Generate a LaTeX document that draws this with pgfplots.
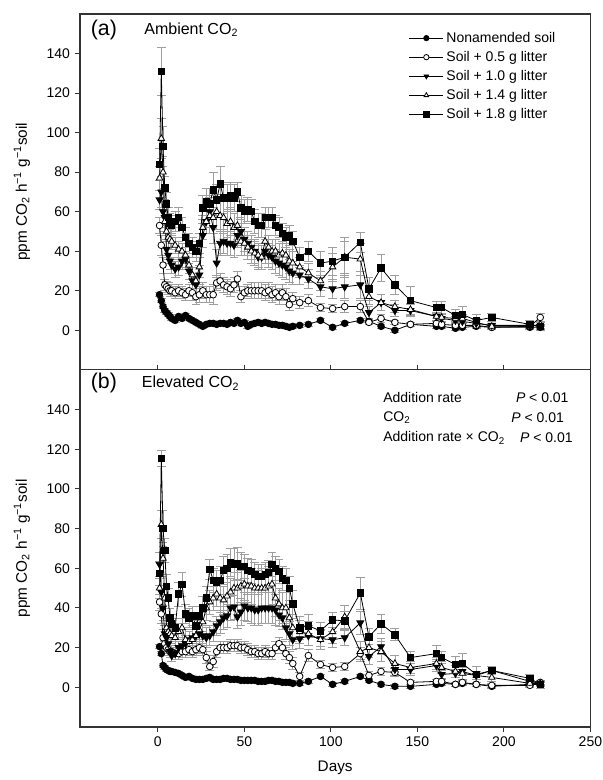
\documentclass[border=0pt]{standalone}
\usepackage{fontspec}
\setmainfont{Liberation Sans}
\usepackage{pgfplots}
\usepackage{pgfplotstable}
\pgfplotsset{compat=1.18}

% columns: day, nonamended, 0.5 g, 1.0 g, 1.4 g, 1.8 g (value, error)
\pgfplotstableread{
d n ne a ae b be c ce s se
1 18 1 53 4 66 5 77 6 84 8
2 15 1 43 5 70 8 97 10 131 12
3 12 1 33 4 60 7 80 8 93 10
4 10 1 23 3 57 5 55 5 72 6
5 9 1 22 3 41 5 50 5 64 6
6 8 1 21 3 38 4 47 5 57 5
7 7 1 20 3 35 4 46 5 54 5
8 6 1 20 3 33 4 45 4 53 5
10 5 1 19 3 31 4 43 4 55 5
12 7 1 20 3 32 4 41 4 57 5
14 6 1 19 3 35 4 40 4 52 5
16 7.5 1 18 3 36 4 38 4 47 5
18 6 1 20 3 30 4 33 4 44 5
20 5 1 19 4 25 4 28 4 42 5
22 4 1 17 4 23 4 25 4 40 5
24 3 1 18 4 28 5 32 5 44 5
26 2 1 20 4 48 6 52 6 62 6
28 3 1 18 4 55 6 55 6 65 7
30 3.5 1 18 4 60 8 58 9 64 8
32 3.5 1 18 5 52 8 57 8 71 9
34 3 1 24 4 34 7 60 9 66 8
36 3.5 1 25 4 44 6 58 8 74 9
38 3.5 1 23 4 45 6 57 8 67 8
40 3 1 22 4 44 6 54 7 67 7
42 4 1 21 4 44 6 55 7 68 7
44 3.5 1 23 4 43 6 52 7 67 7
46 5 1 26 4 48 6 53 7 70 5
48 3.5 1 17 3 50 7 45 7 62 6
50 4 1 19 3 46 6 44 6 60 6
52 2 1 20 3 44 6 42 6 61 6
54 3 1 20 4 42 6 40 6 60 6
56 3.5 1 20 4 40 6 39 6 55 6
58 4 1 20 4 37 6 38 6 53 6
60 3.5 1 20 4 37 6 37 6 53 6
62 4 1 19 4 40 6 45 6 57 5
64 3.5 1 20 4 38 6 42 6 57 5
66 3 1 18 4 37 6 40 6 57 5
68 3 1 19 4 35 6 40 6 53 5
70 2.5 1 17 4 34 6 38 6 52 5
72 2.5 1 19 4 33 6 39 6 49 5
74 2 1 17 4 32 6 38 6 47 5
76 1.5 1 13 3 30 6 35 6 48 5
78 2 1 16 3 29 6 34 6 45 5
82 2.5 1 14 3 28 5 32 5 37 5
87 3 1 15 3 26 5 29 5 40 5
94 5 1 11.5 2 22 5 25 5 34 6
101 1.5 1 11 2 21 5 32 7 35 7
108 3.5 1 12 3 22 6 37 8 37 10
117 5 1 12 3 23 7 36 8 44.5 5
122 4.5 1 4 1 9 3 17 4 21 6
129 2 1 6 2 14 4 14 4 31.5 7
137 0 1 4 1 10 3 12 3 23 5
146 3 1 3 1 10 3 10.5 3 15 7
161 2 1 3.5 1 7 2 7 2 11.5 3
164 2 1 3 1 6 2 6.5 2 11.5 3
172 1 1 2.5 1 5 2 6 2 7.5 3
176 1.5 1 2.5 1 4.5 2 6 2 8 4
184 2 1 2.5 1 3.5 2 4 2 5 3
193 1.5 1 1.5 1 2.5 1 2 1 6.5 2
215 1.5 1 2 1 2.5 1 2 1 3 2
221 1.5 1 6.5 2 2 1 3 1 2 2
}\dataA

\pgfplotstableread{
d n ne a ae b be c ce s se
1 20.5 1 43 4 62 6 50 5 57.5 6
2 17 1 37 5 48 8 82 7 115.5 4
3 11 1 25 4 40 6 65 8 80 9
4 10 1 22 3 27 4 45 5 69 6
5 9 1 20 3 25 4 30 5 51 6
6 8.5 1 19 3 22 4 28 4 45 5
7 8 1 18 3 18 3 27 4 35 5
8 8 1 18 3 16 3 26 4 32 5
10 7.5 1 17 3 17 3 25 4 30 5
12 7 1 17 3 20 3 28 4 47 6
14 6 1 18 3 21 4 30 5 52 6
16 5 1 18 3 22 4 24 5 37 5
18 5.5 1 19 3 24 4 23 5 35 5
20 4.5 1 18 3 25 4 24 5 36 5
22 4 1 19 3 26 4 26 5 31 5
24 4 1 20 3 27 4 29 5 36 5
26 4 1 19 3 26 5 33 5 40 6
28 4.5 1 15 3 25 5 40 6 45 6
30 5 1 10.5 2 26 5 43 6 59.5 5
32 4 1 13 3 28 5 45 6 54 6
34 4 1 18 3 31 5 47 6 53 6
36 4 1 20 3 33 6 45 7 54 7
38 4.5 1 20 3 35 6 44 7 59 7
40 4.5 1 20 3 36 6 46 7 60 7
42 4 1 21 3 40 6 48 7 63 7
44 4 1 21 3 40.5 6 50 8 62 8
46 4 1 21 3 35.5 6 50 8 62.5 8
48 3.5 1 20 3 38 7 51 8 61 7
50 3.5 1 20 3 41 7 52 8 61 6
52 3.5 1 19 3 40 7 51 8 59 6
54 3.5 1 18 3 40 8 51 9 58.5 6
56 3.5 1 18 3 39 8 50 9 57 6
58 3 1 17 3 39 8 50 9 56 6
60 3 1 17 3 40 8 50 10 56 6
62 3 1 18 3 40 8 50 10 57 6
64 3.5 1 17 3 40 8 51 10 58 6
66 3.5 1 17 3 40 8 52 10 62 6
68 3 1 20 3 39 8 45 9 60 6
70 3 1 22 3 36.5 6 42 8 58.5 6
72 2.5 1 20 3 35 6 40 8 55 6
74 2.5 1 17 3 30 6 40 8 54 6
76 2.5 1 15 3 27 6 35 7 50 6
78 2 1 12 3 24 5 30 7 42 7
82 2 1 5.5 2 24.5 5 28 6 30 6
87 3 1 16 3 26 5 27 6 31 6
94 5.5 1 11.5 2 24.5 4 24 5 28.5 4
101 1.5 1 10 2 24 4 28 6 34 4
108 3 1 10.5 2 25 4 35.5 6 33.5 5
117 5.5 1 17 3 32.5 6 18 5 47.5 8
122 3.5 1 6 2 15.5 4 20 5 25.5 4
129 1.5 1 8 2 20.5 4 18 5 32 5
137 0.5 1 7.5 2 9 3 12 4 26.5 3
146 0.5 1 2.5 1 9 3 10 3 15 3
161 1.5 1 3 1 11 3 12 3 17 4
164 2 1 3 1 6.5 2 10 3 15 3
172 1.5 1 1.5 1 7 2 8 3 11.5 4
176 2 1 2.5 1 8 2 7 3 12 5
184 1.5 1 1.5 1 6 2 6 2 6.5 4
193 0.5 1 1 1 8.5 2 5 2 8.5 2
215 1.5 1 1 1 3 1 2 1 4.5 2
221 1.5 1 2.5 1 2 1 2 1 1.5 2
}\dataB

\newcommand\errplot[3]{%
  \addplot[draw=none, mark=none, forget plot,
    error bars/.cd, y dir=both, y explicit,
    error bar style={draw=gray!75, line width=0.55pt},
    error mark options={draw=gray!75, rotate=90, mark size=3.3pt, line width=0.55pt}]
    table[x=d, y=#2, y error=#3] {#1};}

\newcommand\allplots[1]{%
  \errplot{#1}{n}{ne}\errplot{#1}{a}{ae}\errplot{#1}{b}{be}\errplot{#1}{c}{ce}\errplot{#1}{s}{se}
  \addplot[sN] table[x=d, y=n] {#1};
  \addplot[sA] table[x=d, y=a] {#1};
  \addplot[sB] table[x=d, y=b] {#1};
  \addplot[sC] table[x=d, y=c] {#1};
  \addplot[sS] table[x=d, y=s] {#1};
}

\begin{document}
\begin{tikzpicture}
\pgfplotsset{
  panel/.style={
    width=383pt, scale only axis,
    xmin=-45, xmax=250, ymin=-20, ymax=160,
    ytick={0,20,...,140}, ytick pos=left,
    tick align=outside,
    axis line style={line width=0.9pt, black!80},
    major tick style={line width=0.7pt, black!80},
    major tick length=4pt,
    tick label style={font=\fontsize{10.5}{12}\selectfont},
    /pgf/number format/assume math mode=true,
    ylabel={ppm CO\textsubscript{2} h\textsuperscript{−1} g\textsuperscript{−1}soil},
    every axis y label/.style={at={(axis description cs:-0.1136,0.5)}, rotate=90, anchor=center, font=\fontsize{11.5}{13}\selectfont},
  },
  sN/.style={black, line width=0.6pt, mark=*, mark size=2.5pt, mark options={solid, fill=black}},
  sA/.style={black, line width=0.6pt, mark=*, mark size=2.5pt, mark options={solid, fill=white}},
  sB/.style={black, line width=0.6pt, mark=triangle*, mark size=3pt, mark options={solid, fill=black, rotate=180}},
  sC/.style={black, line width=0.6pt, mark=triangle*, mark size=2.8pt, mark options={solid, fill=white}},
  sS/.style={black, line width=0.6pt, mark=square*, mark size=2.4pt, mark options={solid, fill=black}},
  legend image code/.code={\draw[mark repeat=2, mark phase=2, mark size=2pt] plot coordinates {(0cm,0cm) (0.45cm,0cm) (0.9cm,0cm)};},
}

% bottom panel (b)
\begin{axis}[panel, height=268pt, at={(0,0)}, anchor=south west,
  xtick={0,50,...,250}, xtick pos=both,
  xlabel={Days},
  every axis x label/.style={at={(axis description cs:0.5,-0.1147)}, anchor=center, font=\fontsize{11.5}{13}\selectfont},
]
\allplots{\dataB}
\node[anchor=west, font=\fontsize{16}{18}\selectfont] at (rel axis cs:0.012,0.963) {(b)};
\node[anchor=west, font=\fontsize{12}{14}\selectfont] at (rel axis cs:0.112,0.963) {Elevated CO\textsubscript{2}};
\node[anchor=west, font=\fontsize{10.5}{12}\selectfont] at (rel axis cs:0.585,0.9216) {Addition rate};
\node[anchor=west, font=\fontsize{10.5}{12}\selectfont] at (rel axis cs:0.585,0.8655) {CO\textsubscript{2}};
\node[anchor=west, font=\fontsize{10.5}{12}\selectfont] at (rel axis cs:0.585,0.8095) {Addition rate × CO\textsubscript{2}};
\node[anchor=west, font=\fontsize{10.5}{12}\selectfont] at (rel axis cs:0.845,0.9216) {\textit{P} < 0.01};
\node[anchor=west, font=\fontsize{10.5}{12}\selectfont] at (rel axis cs:0.836,0.8655) {\textit{P} < 0.01};
\node[anchor=west, font=\fontsize{10.5}{12}\selectfont] at (rel axis cs:0.853,0.8095) {\textit{P} < 0.01};
\end{axis}

% top panel (a)
\begin{axis}[panel, height=267pt, at={(0,268pt)}, anchor=south west,
  xtick=\empty,
  legend style={draw=none, fill=none, at={(rel axis cs:0.636,0.965)}, anchor=north west,
    font=\fontsize{10.5}{12}\selectfont, row sep=1.2pt},
  legend cell align=left,
]
\allplots{\dataA}
\legend{Nonamended soil, Soil + 0.5 g litter, Soil + 1.0 g litter, Soil + 1.4 g litter, Soil + 1.8 g litter}
\node[anchor=west, font=\fontsize{16}{18}\selectfont] at (rel axis cs:0.012,0.955) {(a)};
\node[anchor=west, font=\fontsize{12}{14}\selectfont] at (rel axis cs:0.117,0.955) {Ambient CO\textsubscript{2}};
\end{axis}

\pgfresetboundingbox
\path (-60pt,-39.75pt) rectangle (392.25pt,545.5pt);
\end{tikzpicture}
\end{document}
